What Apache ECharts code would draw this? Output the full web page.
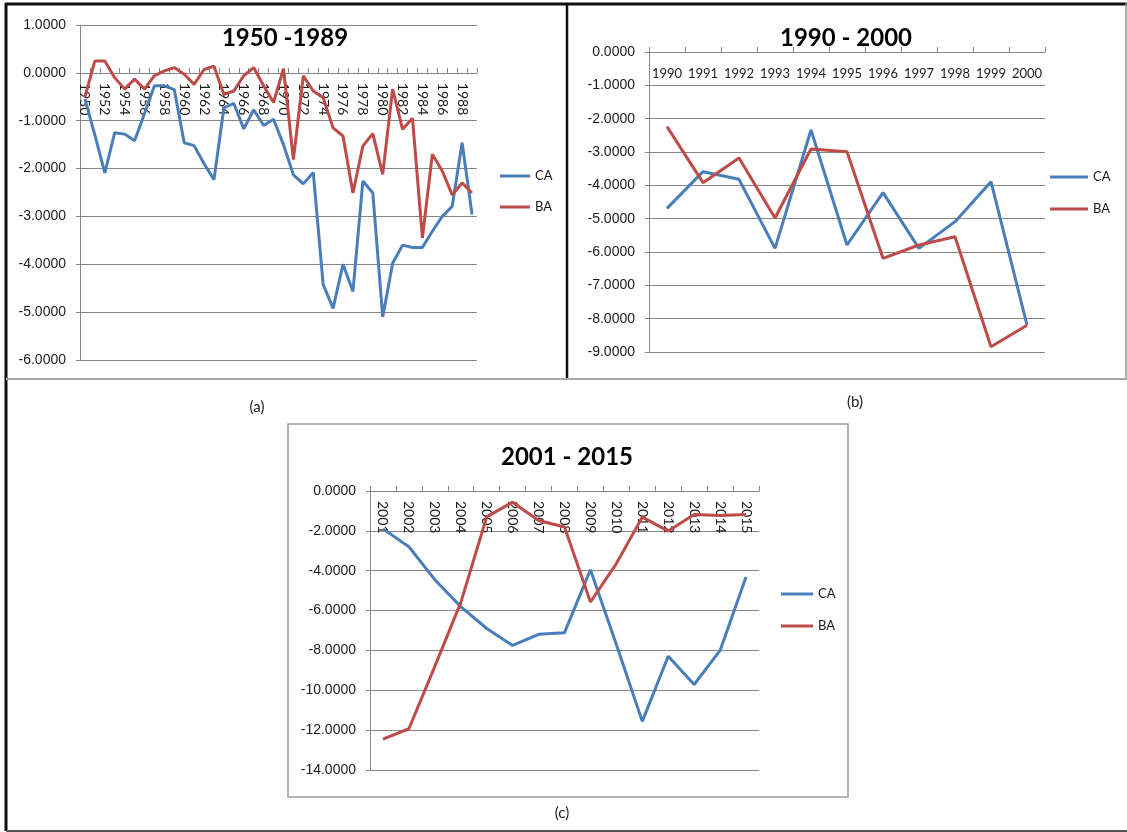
<!DOCTYPE html>
<html>
<head>
<meta charset="utf-8">
<script src="https://cdn.jsdelivr.net/npm/echarts@6/dist/echarts.min.js"></script>
<style>
  html, body { margin: 0; padding: 0; background: #fff; }
  #chart { width: 1127px; height: 832px; }
</style>
</head>
<body>
<div id="chart"></div>
<script>
// Panel (a): 1950 - 1989
const yearsA = ['1950','1951','1952','1953','1954','1955','1956','1957','1958','1959',
  '1960','1961','1962','1963','1964','1965','1966','1967','1968','1969',
  '1970','1971','1972','1973','1974','1975','1976','1977','1978','1979',
  '1980','1981','1982','1983','1984','1985','1986','1987','1988','1989'];
const caA = [-0.55, -1.30, -2.09, -1.25, -1.28, -1.42, -0.85, -0.27, -0.27, -0.35,
  -1.46, -1.52, -1.90, -2.23, -0.73, -0.64, -1.17, -0.77, -1.10, -0.97,
  -1.50, -2.13, -2.32, -2.08, -4.42, -4.92, -4.00, -4.57, -2.26, -2.51,
  -5.10, -3.98, -3.60, -3.65, -3.65, -3.31, -3.00, -2.79, -1.46, -2.96];
const baA = [-0.50, 0.25, 0.25, -0.10, -0.34, -0.13, -0.34, -0.06, 0.04, 0.11,
  -0.03, -0.24, 0.07, 0.14, -0.45, -0.38, -0.06, 0.11, -0.27, -0.62,
  0.09, -1.81, -0.06, -0.38, -0.52, -1.15, -1.32, -2.51, -1.53, -1.27,
  -2.12, -0.34, -1.18, -0.95, -3.45, -1.70, -2.05, -2.55, -2.30, -2.51];

// Panel (b): 1990 - 2000
const yearsB = ['1990','1991','1992','1993','1994','1995','1996','1997','1998','1999','2000'];
const caB = [-4.69, -3.59, -3.82, -5.89, -2.34, -5.79, -4.22, -5.89, -5.09, -3.89, -8.19];
const baB = [-2.24, -3.92, -3.18, -4.98, -2.91, -2.99, -6.19, -5.79, -5.54, -8.84, -8.20];

// Panel (c): 2001 - 2015
const yearsC = ['2001','2002','2003','2004','2005','2006','2007','2008','2009','2010',
  '2011','2012','2013','2014','2015'];
const caC = [-1.90, -2.80, -4.45, -5.80, -6.90, -7.75, -7.19, -7.11, -3.95, -7.70,
  -11.56, -8.29, -9.71, -8.00, -4.32];
const baC = [-12.45, -11.93, -8.80, -5.60, -1.30, -0.56, -1.48, -1.81, -5.57, -3.64,
  -1.31, -2.01, -1.18, -1.23, -1.18];

const titles = ['1950 -1989', '1990 - 2000', '2001 - 2015'];
const seriesNames = ['CA', 'BA'];
const panelTags = ['(a)', '(b)', '(c)'];

const BLUE = '#4A7EBB';
const RED = '#BE4B48';
const GRID_GRAY = '#868686';
const TEXT = '#1a1a1a';
const CAL = 'Lato, "Open Sans", sans-serif';
const ARIAL = '"Liberation Sans", Arial, sans-serif';

// plot boxes: [left, top, width, height] and value ranges
const boxes = [
  { left: 80, top: 25, width: 397, height: 335, min: -6, max: 1, step: 1 },
  { left: 649, top: 52, width: 396, height: 300, min: -9, max: 0, step: 1 },
  { left: 370, top: 491, width: 389, height: 279, min: -14, max: 0, step: 2 }
];

// The category axis sits on the zero line: it is placed at the top of the
// plot and shifted down by the distance from the top value to zero.
function zeroOffset(b) {
  return -(b.max / (b.max - b.min)) * b.height;
}

function catAxis(gridIndex, data, rotated, labelInterval) {
  const b = boxes[gridIndex];
  return {
    gridIndex, type: 'category', data, boundaryGap: true,
    position: 'top', offset: zeroOffset(b),
    axisLine: { onZero: false, lineStyle: { color: GRID_GRAY, width: 1 } },
    axisTick: { show: true, interval: 0, length: 5, lineStyle: { color: GRID_GRAY } },
    axisLabel: {
      inside: true, interval: labelInterval, rotate: rotated ? 90 : 0,
      margin: rotated ? 10 : 15,
      fontFamily: CAL, fontSize: rotated ? 14 : 13, color: TEXT
    },
    splitLine: { show: false }
  };
}

function valAxis(gridIndex) {
  const b = boxes[gridIndex];
  return {
    gridIndex, type: 'value', min: b.min, max: b.max, interval: b.step,
    axisLine: { show: true, lineStyle: { color: GRID_GRAY } },
    axisTick: { show: true, length: 4, lineStyle: { color: GRID_GRAY } },
    axisLabel: {
      margin: 14, fontFamily: ARIAL, fontSize: 14, color: TEXT,
      formatter: v => v.toFixed(4)
    },
    splitLine: { show: true, lineStyle: { color: GRID_GRAY, width: 1 } }
  };
}

function lineSeries(name, idx, data, color) {
  return {
    name, type: 'line', xAxisIndex: idx, yAxisIndex: idx, data,
    symbol: 'none', smooth: false,
    lineStyle: { color, width: 3 }, itemStyle: { color },
    emphasis: { disabled: true }
  };
}

function legendAt(left, top, gap, width) {
  return {
    data: seriesNames, orient: 'vertical', left, top, itemGap: gap, padding: 0,
    icon: 'rect', itemWidth: width, itemHeight: 3,
    textStyle: { fontFamily: CAL, fontSize: 13, color: TEXT, lineHeight: 16 }
  };
}

function titleAt(text, x, y) {
  return {
    text, left: x, top: y, textAlign: 'center', padding: 0,
    textStyle: { fontFamily: CAL, fontSize: 24, fontWeight: 'bold', color: '#000', lineHeight: 26 }
  };
}

function hline(x1, x2, y, color, w) {
  return { type: 'line', silent: true, shape: { x1, y1: y, x2, y2: y }, style: { stroke: color, lineWidth: w } };
}
function vline(x, y1, y2, color, w) {
  return { type: 'line', silent: true, shape: { x1: x, y1, x2: x, y2 }, style: { stroke: color, lineWidth: w } };
}
function tag(text, x, y) {
  return {
    type: 'text', silent: true,
    style: { text, x, y, textAlign: 'center', textVerticalAlign: 'middle',
      font: '15px ' + CAL, fill: TEXT }
  };
}

const chart = echarts.init(document.getElementById('chart'), null, { renderer: 'canvas' });

chart.setOption({
  animation: false,
  backgroundColor: '#fff',
  title: [
    titleAt(titles[0], 285, 25),
    titleAt(titles[1], 846, 25),
    titleAt(titles[2], 567, 444)
  ],
  legend: [
    legendAt(500, 168, 15, 30),
    legendAt(1050, 169, 16, 38),
    legendAt(781, 586, 16, 32)
  ],
  grid: boxes.map(b => ({ left: b.left, top: b.top, width: b.width, height: b.height })),
  xAxis: [
    catAxis(0, yearsA, true, 1),
    catAxis(1, yearsB, false, 0),
    catAxis(2, yearsC, true, 0)
  ],
  yAxis: [valAxis(0), valAxis(1), valAxis(2)],
  series: [
    lineSeries(seriesNames[0], 0, caA, BLUE),
    lineSeries(seriesNames[1], 0, baA, RED),
    lineSeries(seriesNames[0], 1, caB, BLUE),
    lineSeries(seriesNames[1], 1, baB, RED),
    lineSeries(seriesNames[0], 2, caC, BLUE),
    lineSeries(seriesNames[1], 2, baC, RED)
  ],
  graphic: [
    // frame of the upper row
    hline(5, 1127, 4, '#111', 3),
    vline(6, 3, 831, '#111', 3),
    vline(567, 3, 379, '#111', 2.5),
    vline(1126, 3, 379, '#9a9a9a', 1.5),
    hline(6, 1127, 379, '#a8a8a8', 2),
    hline(6, 1127, 831, '#555', 2),
    // box round the lower chart
    { type: 'rect', silent: true, shape: { x: 288, y: 424, width: 560, height: 373 },
      style: { fill: 'none', stroke: '#9a9a9a', lineWidth: 1.5 } },
    tag(panelTags[0], 257, 407),
    tag(panelTags[1], 855, 402),
    tag(panelTags[2], 562, 813)
  ]
});
</script>
</body>
</html>
